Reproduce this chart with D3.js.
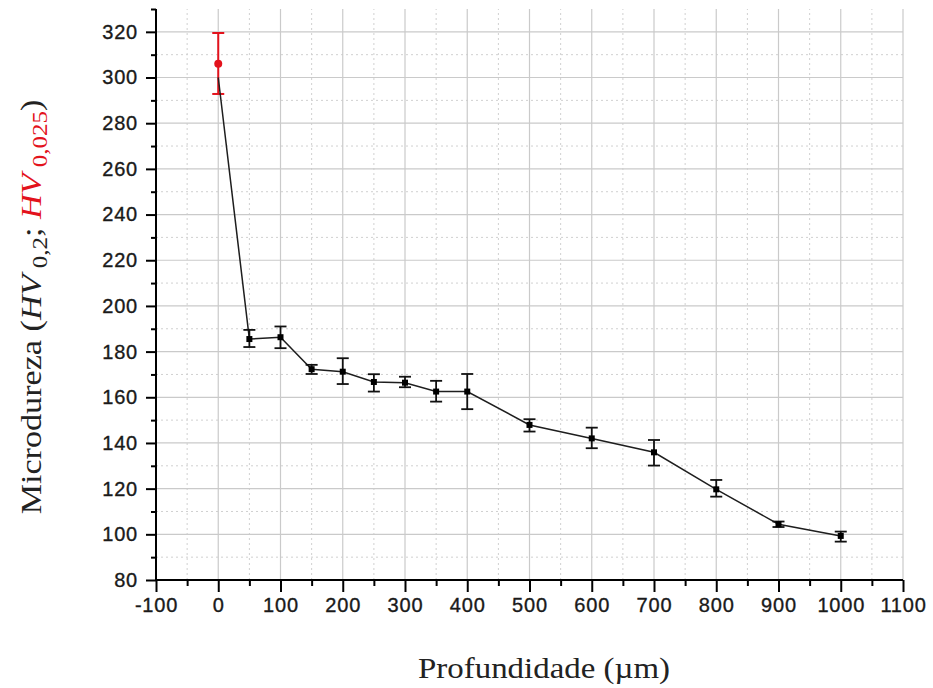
<!DOCTYPE html>
<html>
<head>
<meta charset="utf-8">
<script src="https://cdn.jsdelivr.net/npm/d3@7"></script>
<style>
  html, body { margin: 0; padding: 0; background: #fff; }
  svg { display: block; }
</style>
</head>
<body>
<svg id="chart" width="933" height="688"></svg>
<script>
// Microhardness profile versus depth
const depth    = [0, 50, 100, 150, 200, 250, 300, 350, 400, 500, 600, 700, 800, 900, 1000];
const hardness = [300, 185.5, 186.3, 172.3, 171.2, 166.7, 166.4, 162.5, 162.5, 147.9, 142, 135.9, 119.7, 104.4, 99.3];
const errLow   = [300, 182, 181.5, 170.2, 165.8, 162.5, 164.4, 158.1, 154.8, 145, 137.7, 130.1, 116.5, 103.2, 96.8];
const errHigh  = [300, 189.5, 191, 174.2, 177.1, 170.1, 169, 167.2, 170.2, 150.4, 146.7, 141.3, 123.8, 105.6, 101.2];
const markerShown = [false, true, true, true, true, true, true, true, true, true, true, true, true, true, true];

// Surface layer (HV 0,025)
const surfDepth = [0];
const surfHardness = [306];
const surfLow = [292.8];
const surfHigh = [319.5];

const xTicks = [-100, 0, 100, 200, 300, 400, 500, 600, 700, 800, 900, 1000, 1100];
const yTicks = [80, 100, 120, 140, 160, 180, 200, 220, 240, 260, 280, 300, 320];

const svg = d3.select("#chart");
const x = d3.scaleLinear().domain([-100, 1100]).range([156, 903]);
const y = d3.scaleLinear().domain([80, 330]).range([580, 9]);

const gridMajor = "#cacaca";
const gridMinor = "#d0d0d0";

// grid: minor dotted
const g = svg.append("g");
const xMinor = d3.range(-50, 1100, 100);
const yMinor = d3.range(90, 330, 20);
g.selectAll(".vminor").data(xMinor).join("line")
  .attr("x1", d => x(d)).attr("x2", d => x(d))
  .attr("y1", y(80)).attr("y2", y(330))
  .attr("stroke", gridMinor).attr("stroke-width", 1).attr("stroke-dasharray", "2,3");
g.selectAll(".hminor").data(yMinor).join("line")
  .attr("x1", x(-100)).attr("x2", x(1100))
  .attr("y1", d => y(d)).attr("y2", d => y(d))
  .attr("stroke", gridMinor).attr("stroke-width", 1).attr("stroke-dasharray", "2,3");
// grid: major solid
g.selectAll(".vmajor").data(xTicks.slice(1)).join("line")
  .attr("x1", d => x(d)).attr("x2", d => x(d))
  .attr("y1", y(80)).attr("y2", y(330))
  .attr("stroke", gridMajor).attr("stroke-width", 1.2);
g.selectAll(".hmajor").data(yTicks.slice(1)).join("line")
  .attr("x1", x(-100)).attr("x2", x(1100))
  .attr("y1", d => y(d)).attr("y2", d => y(d))
  .attr("stroke", gridMajor).attr("stroke-width", 1.2);

// axes
const tickFont = "'Liberation Sans', Arial, sans-serif";
const fmt = d => String(d);
const xAxis = d3.axisBottom(x).tickValues(xTicks).tickSize(12).tickPadding(6).tickFormat(fmt);
const xAxisMinor = d3.axisBottom(x).tickValues(xMinor).tickSize(6).tickFormat("");
const yAxis = d3.axisLeft(y).tickValues(yTicks).tickSize(10).tickPadding(8).tickFormat(fmt);
const yAxisMinor = d3.axisLeft(y).tickValues(d3.range(90, 340, 20)).tickSize(5).tickFormat("");

function styleAxis(sel) {
  sel.select(".domain").attr("stroke", "#000").attr("stroke-width", 2);
  sel.selectAll(".tick line").attr("stroke", "#000").attr("stroke-width", 2);
  sel.selectAll("text").attr("fill", "#1a1a1a").attr("stroke", "#1a1a1a").attr("stroke-width", 0.35)
    .style("font-family", tickFont).style("font-size", "20px").style("letter-spacing", "0.8px");
}
const gx = svg.append("g").attr("transform", `translate(0,${y(80)})`).call(xAxis).call(styleAxis);
gx.select(".domain").attr("d", `M${x(-100)},0H${x(1100)}`);
svg.append("g").attr("transform", `translate(0,${y(80)})`).call(xAxisMinor).call(styleAxis)
  .select(".domain").remove();
const gy = svg.append("g").attr("transform", `translate(${x(-100)},0)`).call(yAxis).call(styleAxis);
gy.select(".domain").attr("d", `M0,${y(330)}V${y(80)}`);
svg.append("g").attr("transform", `translate(${x(-100)},0)`).call(yAxisMinor).call(styleAxis)
  .select(".domain").remove();

// surface layer error bar and point (red)
const red = "#e3121c";
const cap = 6;
const sg = svg.append("g");
surfDepth.forEach((d, i) => {
  sg.append("line").attr("x1", x(d)).attr("x2", x(d)).attr("y1", y(surfLow[i])).attr("y2", y(surfHigh[i]))
    .attr("stroke", red).attr("stroke-width", 2);
  [surfLow[i], surfHigh[i]].forEach(v => sg.append("line")
    .attr("x1", x(d) - cap).attr("x2", x(d) + cap).attr("y1", y(v)).attr("y2", y(v))
    .attr("stroke", red).attr("stroke-width", 2));
  sg.append("circle").attr("cx", x(d)).attr("cy", y(surfHardness[i])).attr("r", 4).attr("fill", red);
});

// hardness profile line
const line = d3.line().x((d, i) => x(depth[i])).y(d => y(d));
svg.append("path").datum(hardness).attr("d", line)
  .attr("fill", "none").attr("stroke", "#1e1e1e").attr("stroke-width", 1.5);

// error bars and markers
const eg = svg.append("g");
depth.forEach((d, i) => {
  if (!markerShown[i]) return;
  eg.append("line").attr("x1", x(d)).attr("x2", x(d)).attr("y1", y(errLow[i])).attr("y2", y(errHigh[i]))
    .attr("stroke", "#111").attr("stroke-width", 1.8);
  [errLow[i], errHigh[i]].forEach(v => eg.append("line")
    .attr("x1", x(d) - cap).attr("x2", x(d) + cap).attr("y1", y(v)).attr("y2", y(v))
    .attr("stroke", "#111").attr("stroke-width", 1.8));
  eg.append("rect").attr("x", x(d) - 3).attr("y", y(hardness[i]) - 3)
    .attr("width", 6).attr("height", 6).attr("fill", "#000");
});

// axis titles
const serif = "'Liberation Serif', 'Times New Roman', serif";
svg.append("text").attr("x", 544).attr("y", 678).attr("text-anchor", "middle")
  .style("font-family", serif).style("font-size", "30px").attr("fill", "#222")
  .attr("textLength", 252).attr("lengthAdjust", "spacingAndGlyphs")
  .text("Profundidade (µm)");

const yt = svg.append("text").attr("text-anchor", "middle")
  .style("font-family", serif).style("font-size", "30px").attr("fill", "#222");
yt.append("tspan").text("Microdureza (");
yt.append("tspan").style("font-style", "italic").text("HV");
yt.append("tspan").style("font-size", "22px").attr("dy", 6).text(" 0,2");
yt.append("tspan").attr("dy", -6).text("; ");
yt.append("tspan").style("font-style", "italic").attr("fill", red).text("HV");
yt.append("tspan").style("font-size", "22px").attr("fill", red).attr("dy", 6).text(" 0,025");
yt.append("tspan").attr("dy", -6).text(")");
const len = yt.node().getComputedTextLength();
const k = 415 / len;
yt.attr("transform", `translate(41,307) rotate(-90) scale(${k},1)`);
</script>
</body>
</html>
